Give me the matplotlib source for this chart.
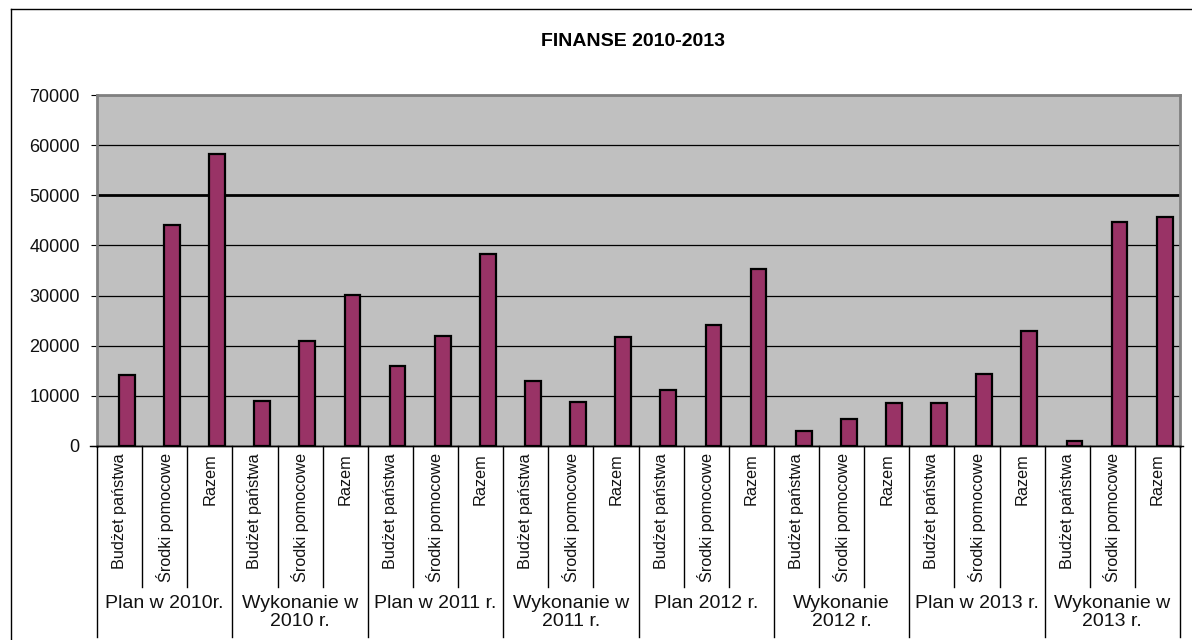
import matplotlib
matplotlib.use("Agg")
import matplotlib.pyplot as plt
import numpy as np
from matplotlib.lines import Line2D
from matplotlib.transforms import blended_transform_factory

plt.rcParams['font.family'] = ['Liberation Sans', 'DejaVu Sans']

title = "FINANSE 2010-2013"
groups = ["Plan w 2010r.", "Wykonanie w\n2010 r.", "Plan w 2011 r.", "Wykonanie w\n2011 r.",
          "Plan 2012 r.", "Wykonanie\n2012 r.", "Plan w 2013 r.", "Wykonanie w\n2013 r."]
subcats = ["Budżet państwa", "Środki pomocowe", "Razem"]
values = [14200, 44000, 58200,
          9000, 20900, 30100,
          15900, 21900, 38200,
          12950, 8800, 21700,
          11200, 24100, 35300,
          3000, 5400, 8600,
          8600, 14300, 22900,
          1000, 44600, 45600]
yticks = [0, 10000, 20000, 30000, 40000, 50000, 60000, 70000]

W, H = 1192, 640
fig = plt.figure(figsize=(W / 100, H / 100), dpi=100)
L, R, T, B = 97, 1180, 95, 446
ax = fig.add_axes([L / W, 1 - B / H, (R - L) / W, (B - T) / H])
ax.set_facecolor('#C0C0C0')

n = len(values)
x = np.arange(n)
bar_shift = 0.16
ax.bar(x + bar_shift, values, width=0.35, color='#993366', edgecolor='black', linewidth=1.6, zorder=3)

ax.set_xlim(-0.5, n - 0.5)
ax.set_ylim(0, 70000)
ax.set_yticks(yticks)
ax.set_yticklabels([str(v) for v in yticks], fontsize=13, color='#111111')
ax.tick_params(axis='y', length=4.5, width=0.8, pad=8, color='black')
ax.set_xticks([])
ax.grid(axis='y', color='black', linewidth=0.9, zorder=1)
ax.set_axisbelow(True)
gl = ax.get_ygridlines()
gl[yticks.index(50000)].set_linewidth(2.0)

for s in ['top', 'right', 'left']:
    ax.spines[s].set_color('#808080')
    ax.spines[s].set_linewidth(2.0)
ax.spines['bottom'].set_color('black')
ax.spines['bottom'].set_linewidth(1.0)

# Category axis (multi-level)
tr = blended_transform_factory(ax.transData, fig.transFigure)
def fy(py):
    return 1 - py / H

fig.add_artist(Line2D([(L - 7) / W, (R + 3) / W], [fy(B), fy(B)], color='black', lw=1.0))

for i in range(n):
    sub = subcats[i % 3]
    ax.text(i, fy(453), sub, transform=tr, rotation=90, ha='center', va='top',
            fontsize=11.7, color='#111111', clip_on=False)
for i in range(n + 1):
    xb = i - 0.5
    y0 = fy(637) if i % 3 == 0 else fy(587)
    fig.add_artist(Line2D([xb, xb], [fy(B), y0], transform=tr, color='black', lw=1.0))
for g, name in enumerate(groups):
    xc = g * 3 + 1
    ax.text(xc, fy(595), name, transform=tr, ha='center', va='top', fontsize=14,
            color='#111111', linespacing=1.08, clip_on=False)

fig.text(633 / W, fy(41), title, ha='center', va='center', fontsize=14, fontweight='bold')

fig.add_artist(Line2D([11 / W, 11 / W], [fy(9), 0], color='black', lw=1.0))
fig.add_artist(Line2D([11 / W, 1], [fy(9), fy(9)], color='black', lw=1.0))

fig.savefig('out.png', dpi=100)
